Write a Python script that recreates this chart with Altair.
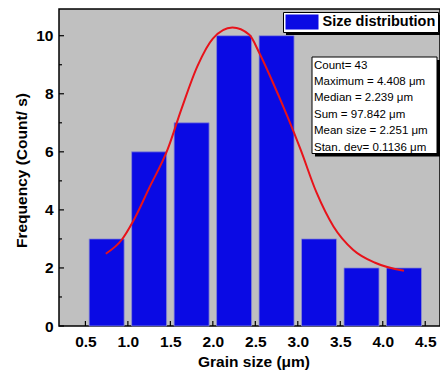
import altair as alt
import pandas as pd

# ---- data ----
bin_centers = [0.75, 1.25, 1.75, 2.25, 2.75, 3.25, 3.75, 4.25]
counts = [3, 6, 7, 10, 10, 3, 2, 2]

fit_x = [0.74, 0.93, 1.06, 1.25, 1.47, 1.63, 1.82, 2.0, 2.23, 2.43, 2.54, 2.69,
         2.88, 3.03, 3.22, 3.42, 3.65, 3.91, 4.25]
fit_y = [2.49, 2.98, 3.6, 4.75, 6.1, 7.47, 8.96, 9.9, 10.28, 10.03, 9.45, 8.5,
         7.2, 6.1, 4.6, 3.43, 2.63, 2.18, 1.9]

x_ticks_major = [0.5, 1.0, 1.5, 2.0, 2.5, 3.0, 3.5, 4.0, 4.5]
x_ticks_minor = [0.75, 1.25, 1.75, 2.25, 2.75, 3.25, 3.75, 4.25]
y_ticks_major = [0, 2, 4, 6, 8, 10]
y_ticks_minor = [1, 3, 5, 7, 9]

stats_lines = ["Count= 43", "Maximum = 4.408 μm", "Median = 2.239 μm",
               "Sum = 97.842 μm", "Mean size = 2.251 μm", "Stan. dev= 0.1136 μm"]
legend_label = "Size distribution"
x_title = "Grain size (μm)"
y_title = "Frequency (Count/ s)"

FONT = "Liberation Sans"
W, H = 381, 317

xscale = alt.Scale(domain=[0.248, 4.615], nice=False, zero=False)
yscale = alt.Scale(domain=[0, 10.92], nice=False)

x_axis = alt.Axis(values=x_ticks_major, format=".1f", title=x_title,
                  ticks=False, domain=False, grid=False, labelPadding=8,
                  labelFont=FONT, labelFontSize=15.5, labelFontWeight="bold",
                  labelColor="black", titleFont=FONT, titleFontSize=15.5,
                  titleFontWeight="bold", titleColor="black",
                  titleX=194.5, titleY=40, titleBaseline="alphabetic",
                  titleAlign="center", labelFlush=False)
y_axis = alt.Axis(values=y_ticks_major, title=y_title, ticks=False,
                  domain=False, grid=False, labelPadding=6,
                  labelFont=FONT, labelFontSize=15.5, labelFontWeight="bold",
                  labelColor="black", titleFont=FONT, titleFontSize=15.5,
                  titleFontWeight="bold", titleColor="black",
                  titleX=-38, titleY=161, titleAngle=270,
                  titleAlign="center", titleBaseline="middle",
                  labelFlush=False)

X = lambda: alt.X("size:Q", scale=xscale, axis=x_axis)
Y = lambda: alt.Y("count:Q", scale=yscale, axis=y_axis)

bars_df = pd.DataFrame({"size": bin_centers, "count": counts,
                        "series": [legend_label] * len(counts)})
fit_df = pd.DataFrame({"size": fit_x, "count": fit_y})
one = pd.DataFrame({"a": [0]})

LEG_X = 224

# tick marks drawn inward
xt_major = alt.Chart(pd.DataFrame({"size": x_ticks_major})).mark_rule(
    color="black", strokeWidth=1.2).encode(x=X(), y=alt.value(H), y2=alt.value(H - 5))
xt_minor = alt.Chart(pd.DataFrame({"size": x_ticks_minor})).mark_rule(
    color="black", strokeWidth=1.2).encode(x=X(), y=alt.value(H), y2=alt.value(H - 3))

bars = alt.Chart(bars_df).mark_bar(size=35, stroke="#8c8cd0", strokeWidth=0.8).encode(
    x=X(), y=Y(),
    color=alt.Color("series:N",
                    scale=alt.Scale(domain=[legend_label], range=["#0a0ae4"]),
                    legend=alt.Legend(orient="none", legendX=LEG_X, legendY=3,
                                      title=None, fillColor="white",
                                      strokeColor="black", padding=2.5,
                                      symbolType="M-1,-1H3.4V1H-1Z",
                                      symbolSize=225, symbolStrokeWidth=0,
                                      symbolOpacity=1, labelOffset=22,
                                      labelFont=FONT, labelFontSize=14.5,
                                      labelFontWeight="bold", labelColor="black")),
)

yt_major = alt.Chart(pd.DataFrame({"count": y_ticks_major})).mark_rule(
    color="black", strokeWidth=1.2).encode(y=Y(), x=alt.value(0), x2=alt.value(5))
yt_minor = alt.Chart(pd.DataFrame({"count": y_ticks_minor})).mark_rule(
    color="black", strokeWidth=1.2).encode(y=Y(), x=alt.value(0), x2=alt.value(3))

fit = alt.Chart(fit_df).mark_line(color="#e8121a", strokeWidth=2,
                                  interpolate="monotone").encode(x=X(), y=Y())

# legend shadow
leg_shadow = alt.Chart(one).mark_rect(color="black").encode(
    x=alt.value(LEG_X + 3), x2=alt.value(LEG_X + 158), y=alt.value(6), y2=alt.value(26))

# stats box
box_shadow = alt.Chart(one).mark_rect(color="black").encode(
    x=alt.value(256), x2=alt.value(381), y=alt.value(51), y2=alt.value(147.5))
box = alt.Chart(one).mark_rect(fill="white", stroke="black", strokeWidth=1).encode(
    x=alt.value(253), x2=alt.value(378), y=alt.value(48), y2=alt.value(144.5))
box_text = alt.Chart(one).mark_text(
    text=stats_lines, align="left", baseline="alphabetic", font=FONT,
    fontSize=11.5, lineHeight=16.4, color="black").encode(
    x=alt.value(255), y=alt.value(59.5))

chart = alt.layer(
    xt_minor, bars, xt_major, yt_major, yt_minor, fit,
    leg_shadow, box_shadow, box, box_text
).properties(
    width=W, height=H,
    autosize=alt.AutoSizeParams(type="none"),
    padding={"left": 51, "top": 1, "right": 0, "bottom": 45},
    background="white",
).configure_view(
    fill="#c0c0c0", stroke="black", strokeWidth=1.5
)

chart.save("out.html", embed_options={"renderer": "svg", "actions": False})
